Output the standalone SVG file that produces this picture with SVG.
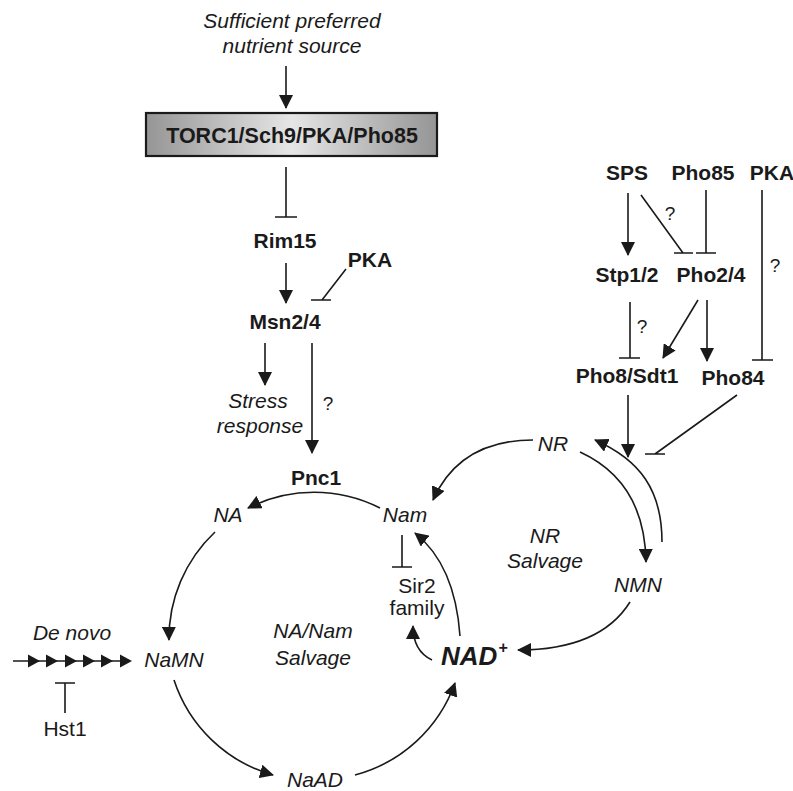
<svg xmlns="http://www.w3.org/2000/svg" width="793" height="791" viewBox="0 0 793 791">
  <defs>
    <linearGradient id="boxFill" x1="0" y1="0" x2="1" y2="0">
      <stop offset="0" stop-color="#959595"/>
      <stop offset="0.5" stop-color="#e6e6e6"/>
      <stop offset="1" stop-color="#959595"/>
    </linearGradient>
    <marker id="arrow" viewBox="0 0 14 14" refX="13" refY="7" markerWidth="14" markerHeight="14" markerUnits="userSpaceOnUse" orient="auto">
      <path d="M0,0 L14,7 L0,14 z" fill="#1a1a1a"/>
    </marker>
    <path id="chainHead" d="M-12,-6.5 L0,0 L-12,6.5 z"/>
  </defs>
  <style>
    text { font-family: "Liberation Sans", Arial, sans-serif; fill: #1a1a1a; font-size: 21px; }
    .b { font-weight: bold; }
    .i { font-style: italic; }
    .q { font-size: 19px; }
    .ln { fill: none; stroke: #1a1a1a; stroke-width: 1.6; }
    .act { marker-end: url(#arrow); }
  </style>
  <rect width="793" height="791" fill="#ffffff"/>

  <!-- nodes -->
  <g id="nutrient" text-anchor="middle">
    <text x="292" y="28" class="i">Sufficient preferred</text>
    <text x="292" y="53" class="i">nutrient source</text>
  </g>
  <g id="torc1">
    <rect x="146" y="113" width="291" height="43" fill="url(#boxFill)" stroke="#1a1a1a" stroke-width="2.2"/>
    <text x="292" y="143" class="b" text-anchor="middle" style="font-size:21.5px">TORC1/Sch9/PKA/Pho85</text>
  </g>
  <g id="rim15"><text x="285" y="248" class="b" text-anchor="middle">Rim15</text></g>
  <g id="pka-left"><text x="370" y="267" class="b" text-anchor="middle">PKA</text></g>
  <g id="msn24"><text x="285" y="329" class="b" text-anchor="middle">Msn2/4</text></g>
  <g id="stress" text-anchor="middle">
    <text x="258" y="408" class="i">Stress</text>
    <text x="260" y="433" class="i">response</text>
  </g>
  <g id="pnc1"><text x="316" y="485" class="b" text-anchor="middle">Pnc1</text></g>
  <g id="na"><text x="228" y="522" class="i" text-anchor="middle">NA</text></g>
  <g id="nam"><text x="405" y="522" class="i" text-anchor="middle">Nam</text></g>
  <g id="sir2" text-anchor="middle">
    <text x="417" y="593">Sir2</text>
    <text x="417" y="615">family</text>
  </g>
  <g id="nanam-salvage" text-anchor="middle">
    <text x="313" y="638" class="i">NA/Nam</text>
    <text x="313" y="665" class="i">Salvage</text>
  </g>
  <g id="denovo"><text x="72" y="640" class="i" text-anchor="middle">De novo</text></g>
  <g id="namn"><text x="174" y="667" class="i" text-anchor="middle">NaMN</text></g>
  <g id="hst1"><text x="65" y="736" text-anchor="middle">Hst1</text></g>
  <g id="naad"><text x="315" y="787" class="i" text-anchor="middle">NaAD</text></g>
  <g id="nad">
    <text x="441" y="665" class="b i" style="font-size:26px">NAD<tspan dx="1" dy="-12" style="font-size:16px">+</tspan></text>
  </g>
  <g id="nr"><text x="553" y="451" class="i" text-anchor="middle">NR</text></g>
  <g id="nr-salvage" text-anchor="middle">
    <text x="545" y="543" class="i">NR</text>
    <text x="545" y="568" class="i">Salvage</text>
  </g>
  <g id="nmn"><text x="638" y="592" class="i" text-anchor="middle">NMN</text></g>
  <g id="sps"><text x="627" y="180" class="b" text-anchor="middle">SPS</text></g>
  <g id="pho85"><text x="703" y="180" class="b" text-anchor="middle">Pho85</text></g>
  <g id="pka-right"><text x="772" y="180" class="b" text-anchor="middle">PKA</text></g>
  <g id="stp12"><text x="627" y="282" class="b" text-anchor="middle">Stp1/2</text></g>
  <g id="pho24"><text x="711" y="282" class="b" text-anchor="middle">Pho2/4</text></g>
  <g id="pho8sdt1"><text x="627" y="383" class="b" text-anchor="middle">Pho8/Sdt1</text></g>
  <g id="pho84"><text x="733" y="385" class="b" text-anchor="middle">Pho84</text></g>

  <!-- connectors -->
  <g id="connectors">
    <!-- nutrient signalling -->
    <path class="ln act" d="M286,66 V108"/>
    <path class="ln" d="M286,167 V217 M275,217 H297"/>
    <path class="ln act" d="M286,263 V303"/>
    <path class="ln" d="M346,269 L322,300 M311,300 H331"/>
    <path class="ln act" d="M265,343 V385"/>
    <path class="ln act" d="M312,343 V453"/>

    <!-- NA/Nam salvage cycle -->
    <path class="ln act" d="M380,508 A146,146 0 0 0 248,508"/>
    <path class="ln act" d="M215,532 A146,146 0 0 0 169,640"/>
    <path class="ln act" d="M174,680 A146,146 0 0 0 273,775"/>
    <path class="ln act" d="M355,775 A146,146 0 0 0 455,683"/>
    <path class="ln act" d="M460,636 Q455,565 415,533"/>
    <path class="ln act" d="M432,660 Q413,651 413,626"/>
    <path class="ln" d="M402,535 V567 M392,567 H412"/>

    <!-- de novo chain -->
    <path class="ln" d="M13,661 H130"/>
    <g fill="#1a1a1a">
      <use href="#chainHead" x="40" y="661"/>
      <use href="#chainHead" x="58" y="661"/>
      <use href="#chainHead" x="77" y="661"/>
      <use href="#chainHead" x="95" y="661"/>
      <use href="#chainHead" x="113" y="661"/>
      <use href="#chainHead" x="132" y="661"/>
    </g>
    <path class="ln" d="M65,713 V683 M55,683 H75"/>

    <!-- NR salvage -->
    <path class="ln act" d="M533,440 Q460,440 433,500"/>
    <path class="ln act" d="M580,452 C615,468 645,500 646,562"/>
    <path class="ln act" d="M662,542 C662,490 640,460 595,440"/>
    <path class="ln act" d="M630,602 Q600,650 518,650"/>

    <!-- phosphate / SPS signalling -->
    <path class="ln act" d="M628,193 V255"/>
    <path class="ln" d="M641,195 L683,253 M674,253 H693"/>
    <path class="ln" d="M706,190 V253 M696,253 H716"/>
    <path class="ln" d="M762,190 V360 M752,360 H773"/>
    <path class="ln" d="M630,302 V358 M619,358 H640"/>
    <path class="ln act" d="M698,300 L663,358"/>
    <path class="ln act" d="M707,300 V361"/>
    <path class="ln act" d="M628,395 V457"/>
    <path class="ln" d="M737,395 L655,454 M645,454 H665"/>
  </g>

  <!-- uncertain links -->
  <g id="question-marks" text-anchor="middle">
    <text x="328" y="410" class="q">?</text>
    <text x="670" y="220" class="q">?</text>
    <text x="775" y="272" class="q">?</text>
    <text x="642" y="333" class="q">?</text>
  </g>
</svg>
